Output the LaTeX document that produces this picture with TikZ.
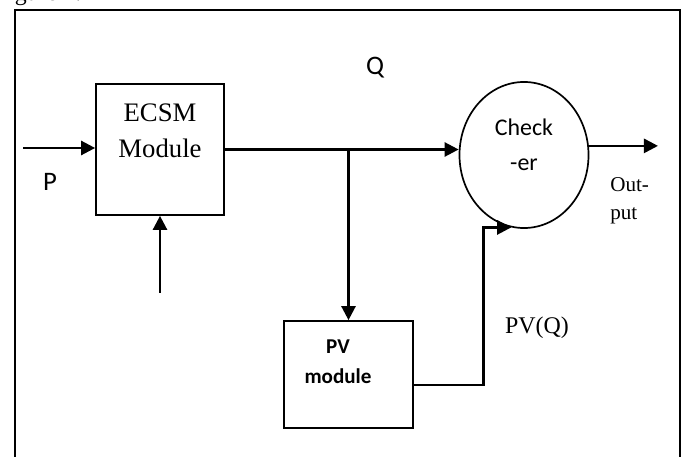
\documentclass[tikz,border=0pt]{standalone}
\usepackage{fontspec}
\setmainfont{Liberation Serif}
\newfontfamily\carlito{Carlito}
\usetikzlibrary{arrows.meta, positioning, calc, shapes.geometric}

\begin{document}
\begin{tikzpicture}[x=0.025cm, y=-0.025cm,
  arrow/.style={-{Triangle[length=10pt, width=10pt]}, line width=1.8pt},
  frame_line/.style={line width=1.4pt},
  module_box/.style={draw, rectangle, line width=1.2pt, minimum width=3.2cm, minimum height=3.275cm},
  pv_box/.style={draw, rectangle, line width=1.2pt, minimum width=3.225cm, minimum height=2.675cm},
  check_node/.style={draw, ellipse, line width=1.2pt, minimum width=3.225cm, minimum height=3.65cm},
  serif_text/.style={font=\fontsize{19}{25.5}\selectfont, align=center, inner sep=0pt},
  sans_text/.style={font=\carlito\fontsize{17}{25}\selectfont, align=center, inner sep=0pt},
  small_text/.style={font=\fontsize{15}{20}\selectfont, align=left, inner sep=0pt}
]
  \useasboundingbox (0,0) rectangle (688,457);

  % caption cut off at the top, and the open frame
  \node (caption) [anchor=base west, font=\fontsize{17}{20}\selectfont, inner sep=0pt] at (0,1) {figure 2.};
  \draw[frame_line] (15,457) -- (15,10) -- (680,10) -- (680,457);

  % Blocks
  \node (ecsm) [module_box] at (160,149.5) {};
  \node (ecsm_text) [serif_text] at (160,131) {ECSM\\Module};

  \node (checker) [check_node] at (524,155) {};
  \node (checker_text) [sans_text] at (524,145) {Check\\-er};

  \node (pv) [pv_box] at (348.5,374.5) {};
  \node (pv_text) [sans_text, font=\carlito\bfseries\fontsize{15}{21}\selectfont] at (338,362) {PV\\module};

  % Labels
  \node (p_label) [sans_text, font=\carlito\fontsize{19}{22}\selectfont] at (50,182) {P};
  \node (q_label) [sans_text, font=\carlito\fontsize{19}{22}\selectfont] at (375,68) {Q};
  \node (pvq_label) [serif_text, font=\fontsize{17}{22}\selectfont] at (537,328) {PV(Q)};
  \node (out_label) [small_text, anchor=west] at (610,201) {Out-\\put};

  % Free ends
  \coordinate (p_in) at (23,148);
  \coordinate (key_in) at (160,293);
  \coordinate (out_end) at (658,0);
  \coordinate (bend) at ($(checker.260)+(-28,0)$);

  % Connections
  \draw[arrow] (p_in) -- (p_in -| ecsm.west);
  \draw[arrow] (key_in) -- (ecsm.south);
  \draw[arrow] (ecsm.east) -- (ecsm.east -| checker.west);
  \draw[arrow] (pv.north |- ecsm.east) -- (pv.north);
  \draw[arrow] ([yshift=-7.4pt]pv.east) -| (bend) -- (checker.260);
  \draw[arrow] (checker.8) -- (checker.8 -| out_end);

\end{tikzpicture}
\end{document}
